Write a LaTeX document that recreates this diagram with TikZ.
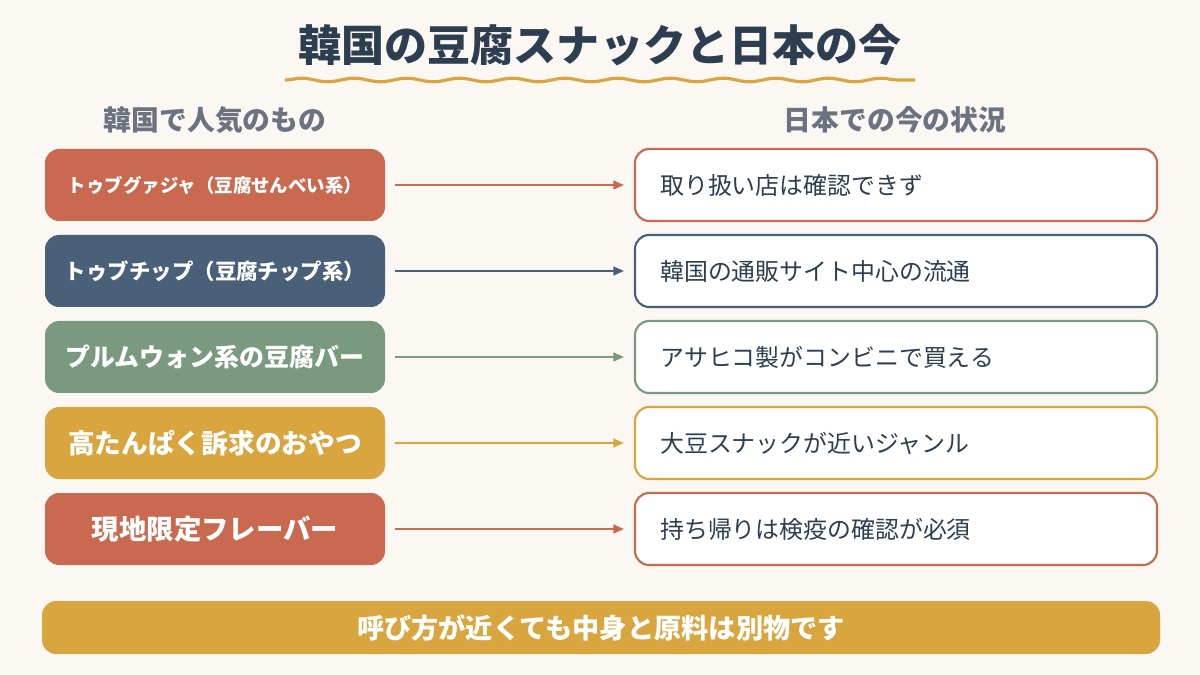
\documentclass[tikz,border=0pt]{standalone}
\usepackage{fontspec}
\setmainfont{Noto Sans CJK JP}
\usetikzlibrary{arrows.meta,decorations.pathmorphing}
\definecolor{bg}{HTML}{FBF7F2}
\definecolor{terra}{HTML}{C9694F}
\definecolor{navy}{HTML}{4A5F78}
\definecolor{sage}{HTML}{7A9A80}
\definecolor{gold}{HTML}{D9A53F}
\definecolor{ink}{HTML}{2C3E50}
\definecolor{grey}{HTML}{6B7280}
\begin{document}
\begin{tikzpicture}[x=0.02cm,y=-0.02cm,
 lbox/.style={rounded corners=8pt,minimum width=340*0.02cm,minimum height=72*0.02cm,text=white,font=\bfseries,inner sep=0pt},
 rbox/.style={rounded corners=8pt,fill=white,line width=1.2pt,minimum width=522*0.02cm,minimum height=72*0.02cm,inner sep=0pt},
 rtxt/.style={anchor=west,text=ink,font=\fontsize{13.6}{14}\selectfont},
 arr/.style={line width=1pt,-{Triangle[length=6pt,width=5pt]}}]
\fill[bg] (0,0) rectangle (1200,675);
\node[text=ink,font=\fontsize{24.5}{27}\bfseries\selectfont] (t) at (600,45) {韓国の豆腐スナックと日本の今};
\draw[gold,line width=1.8pt,decorate,decoration={snake,amplitude=1pt,segment length=30pt}] (285,80) -- (915,80);
\node[text=grey,font=\fontsize{15.8}{17}\bfseries\selectfont] (h1) at (215,120) {韓国で人気のもの};
\node[text=grey,font=\fontsize{15.8}{17}\bfseries\selectfont] (h2) at (895,120) {日本での今の状況};
\foreach \i/\c/\fs/\lt/\rt in {
 1/terra/10.5/{トゥブグァジャ（豆腐せんべい系）}/{取り扱い店は確認できず},
 2/navy/12.2/{トゥブチップ（豆腐チップ系）}/{韓国の通販サイト中心の流通},
 3/sage/14.2/{プルムウォン系の豆腐バー}/{アサヒコ製がコンビニで買える},
 4/gold/15.2/{高たんぱく訴求のおやつ}/{大豆スナックが近いジャンル},
 5/terra/15.6/{現地限定フレーバー}/{持ち帰りは検疫の確認が必須}}{
 \pgfmathsetmacro\yy{185+86*(\i-1)}
 \node[lbox,fill=\c,font=\fontsize{\fs}{\fs}\bfseries\selectfont] (l\i) at (215,\yy) {\lt};
 \node[rbox,draw=\c] (r\i) at (896,\yy) {};
 \node[rtxt] (rt\i) at (654,\yy) {\rt};
 \draw[arr,\c] ([xshift=10*0.02cm]l\i.east) -- ([xshift=-10*0.02cm]r\i.west);
}
\node[fill=gold,rounded corners=8pt,minimum width=1118*0.02cm,minimum height=53*0.02cm,text=white,font=\fontsize{15.5}{16}\bfseries\selectfont] (b) at (601,627.5) {呼び方が近くても中身と原料は別物です};
\end{tikzpicture}
\end{document}
